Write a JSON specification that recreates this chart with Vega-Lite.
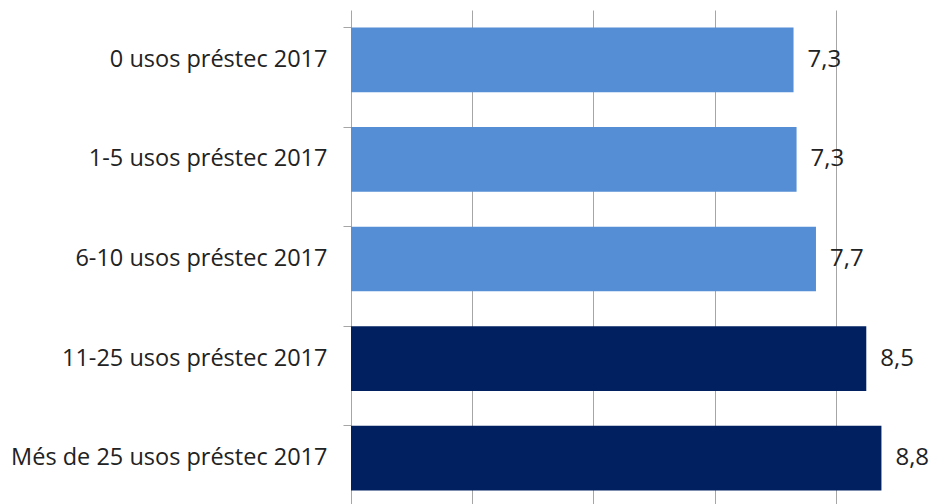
{
  "$schema": "https://vega.github.io/schema/vega-lite/v6.json",
  "width": 585,
  "height": 498,
  "autosize": {"type": "none"},
  "padding": {"left": 351, "top": 10, "right": 0, "bottom": 0},
  "background": "white",
  "config": {"view": {"stroke": null}},
  "data": {
    "values": [
      {"cat": "0 usos préstec 2017", "value": 7.3, "label": "7,3", "grp": "a"},
      {"cat": "1-5 usos préstec 2017", "value": 7.35, "label": "7,3", "grp": "a"},
      {"cat": "6-10 usos préstec 2017", "value": 7.67, "label": "7,7", "grp": "a"},
      {"cat": "11-25 usos préstec 2017", "value": 8.5, "label": "8,5", "grp": "b"},
      {"cat": "Més de 25 usos préstec 2017", "value": 8.75, "label": "8,8", "grp": "b"}
    ]
  },
  "encoding": {
    "y": {
      "field": "cat",
      "type": "nominal",
      "sort": null,
      "scale": {"paddingInner": 0.35, "paddingOuter": 0.175},
      "axis": {
        "title": null,
        "bandPosition": 0,
        "labelFont": "Open Sans",
        "labelFontSize": 23.5,
        "labelColor": "#222222",
        "labelPadding": 16,
        "labelLimit": 400,
        "tickSize": 8,
        "tickColor": "#a6a6a6",
        "domainColor": "#a6a6a6",
        "labelBound": false
      }
    },
    "x": {
      "field": "value",
      "type": "quantitative",
      "scale": {"domain": [0, 9.65], "nice": false, "zero": true},
      "axis": {
        "title": null,
        "values": [2, 4, 6, 8],
        "labels": false,
        "ticks": false,
        "domain": false,
        "grid": true,
        "gridColor": "#a6a6a6",
        "gridWidth": 1
      }
    }
  },
  "layer": [
    {
      "mark": {"type": "bar"},
      "encoding": {
        "color": {
          "field": "grp",
          "type": "nominal",
          "scale": {"domain": ["a", "b"], "range": ["#558ed5", "#002060"]},
          "legend": null
        }
      }
    },
    {
      "mark": {"type": "text", "align": "left", "baseline": "middle", "dx": 14, "font": "Open Sans", "fontSize": 24, "color": "#222222"},
      "encoding": {"text": {"field": "label"}}
    }
  ]
}
